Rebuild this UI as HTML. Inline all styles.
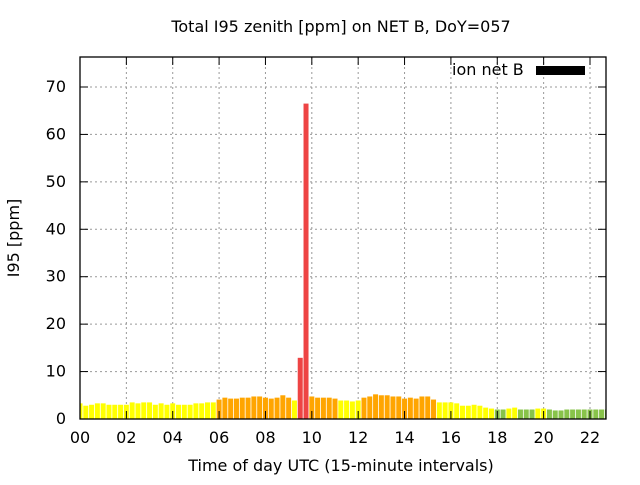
<!DOCTYPE html>
<html><head><meta charset="utf-8"><style>
body{margin:0;background:#fff;}
svg text{font-family:"DejaVu Sans","Liberation Sans",sans-serif;font-size:16px;fill:#000;}
</style></head><body>
<svg id="chart" width="640" height="480" xmlns="http://www.w3.org/2000/svg">
<text x="341" y="32" text-anchor="middle">Total I95 zenith [ppm] on NET B, DoY=057</text>
<text x="341" y="471" text-anchor="middle">Time of day UTC (15-minute intervals)</text>
<text x="19" y="238" text-anchor="middle" transform="rotate(-90 19 238)">I95 [ppm]</text>
<g id="grid"></g><g id="bars"></g><g id="axes"></g>
<text x="452" y="75">ion net B</text>
<rect x="536" y="66" width="49" height="9" fill="#000"/>
</svg>
<script>
const values=[3.3,2.8,3.0,3.3,3.3,3.0,3.0,3.0,3.0,3.5,3.3,3.5,3.5,3.0,3.3,3.0,3.3,3.0,3.0,3.0,3.3,3.3,3.5,3.5,4.1,4.5,4.3,4.3,4.5,4.5,4.75,4.75,4.5,4.3,4.5,5.0,4.5,3.9,12.9,66.5,4.75,4.5,4.5,4.5,4.3,3.9,3.9,3.7,3.9,4.5,4.75,5.2,5.0,5.0,4.75,4.75,4.3,4.5,4.3,4.75,4.75,4.1,3.5,3.5,3.5,3.3,2.8,2.8,3.0,2.8,2.4,2.2,2.0,2.0,2.2,2.4,2.0,2.0,2.0,2.2,2.2,2.0,1.8,1.8,2.0,2.0,2.0,2.0,2.0,2.0,2.0,2.0];
const xTickLabels=["00","02","04","06","08","10","12","14","16","18","20","22"];
const yTickLabels=[0,10,20,30,40,50,60,70];
const L=80,R=606,T=57,B=419;
const xs=i=>L+i*(510/88);
const ys=v=>B-v*4.743;
const NS="http://www.w3.org/2000/svg";
function mk(tag,attrs,parent){const e=document.createElementNS(NS,tag);for(const k in attrs)e.setAttribute(k,attrs[k]);parent.appendChild(e);return e;}
const grid=document.getElementById('grid'),bars=document.getElementById('bars'),axes=document.getElementById('axes');
function col(v){return v<2.1?'#88c34a':v<4.0?'#ffff00':v<10?'#ffa500':'#ee4444';}
yTickLabels.forEach(v=>{const y=ys(v);
 if(v>0){const g=mk('line',{x1:L,x2:R,y1:y,y2:y,stroke:'#999','stroke-dasharray':'2,3'},grid);
 
 }
 const t=mk('text',{x:L-14,y:y+5,'text-anchor':'end'},axes);t.textContent=v;
 
 
 mk('line',{x1:L,x2:L+8,y1:y,y2:y,stroke:'#000'},axes);mk('line',{x1:R,x2:R-8,y1:y,y2:y,stroke:'#000'},axes);});
xTickLabels.forEach((s,k)=>{const x=xs(k*8);
 if(k>0){const g=mk('line',{x1:x,x2:x,y1:T,y2:B,stroke:'#999','stroke-dasharray':'2,3'},grid);
 
 }
 const t=mk('text',{x:x,y:443,'text-anchor':'middle'},axes);t.textContent=s;
 
 
 mk('line',{x1:x,x2:x,y1:B,y2:B-8,stroke:'#000'},axes);mk('line',{x1:x,x2:x,y1:T,y2:T+8,stroke:'#000'},axes);});
values.forEach((v,i)=>{let x0=xs(i)-2.5,x1=xs(i)+2.5;x0=Math.max(x0,L);x1=Math.min(x1,R);
 const r=mk('rect',{x:x0,y:ys(v),width:Math.max(0,x1-x0),height:B-ys(v),fill:col(v)},bars);
 
 });
const f=mk('rect',{x:L,y:T,width:R-L,height:B-T,fill:'none',stroke:'#000','stroke-width':1.3},axes);


</script>
</body></html>
